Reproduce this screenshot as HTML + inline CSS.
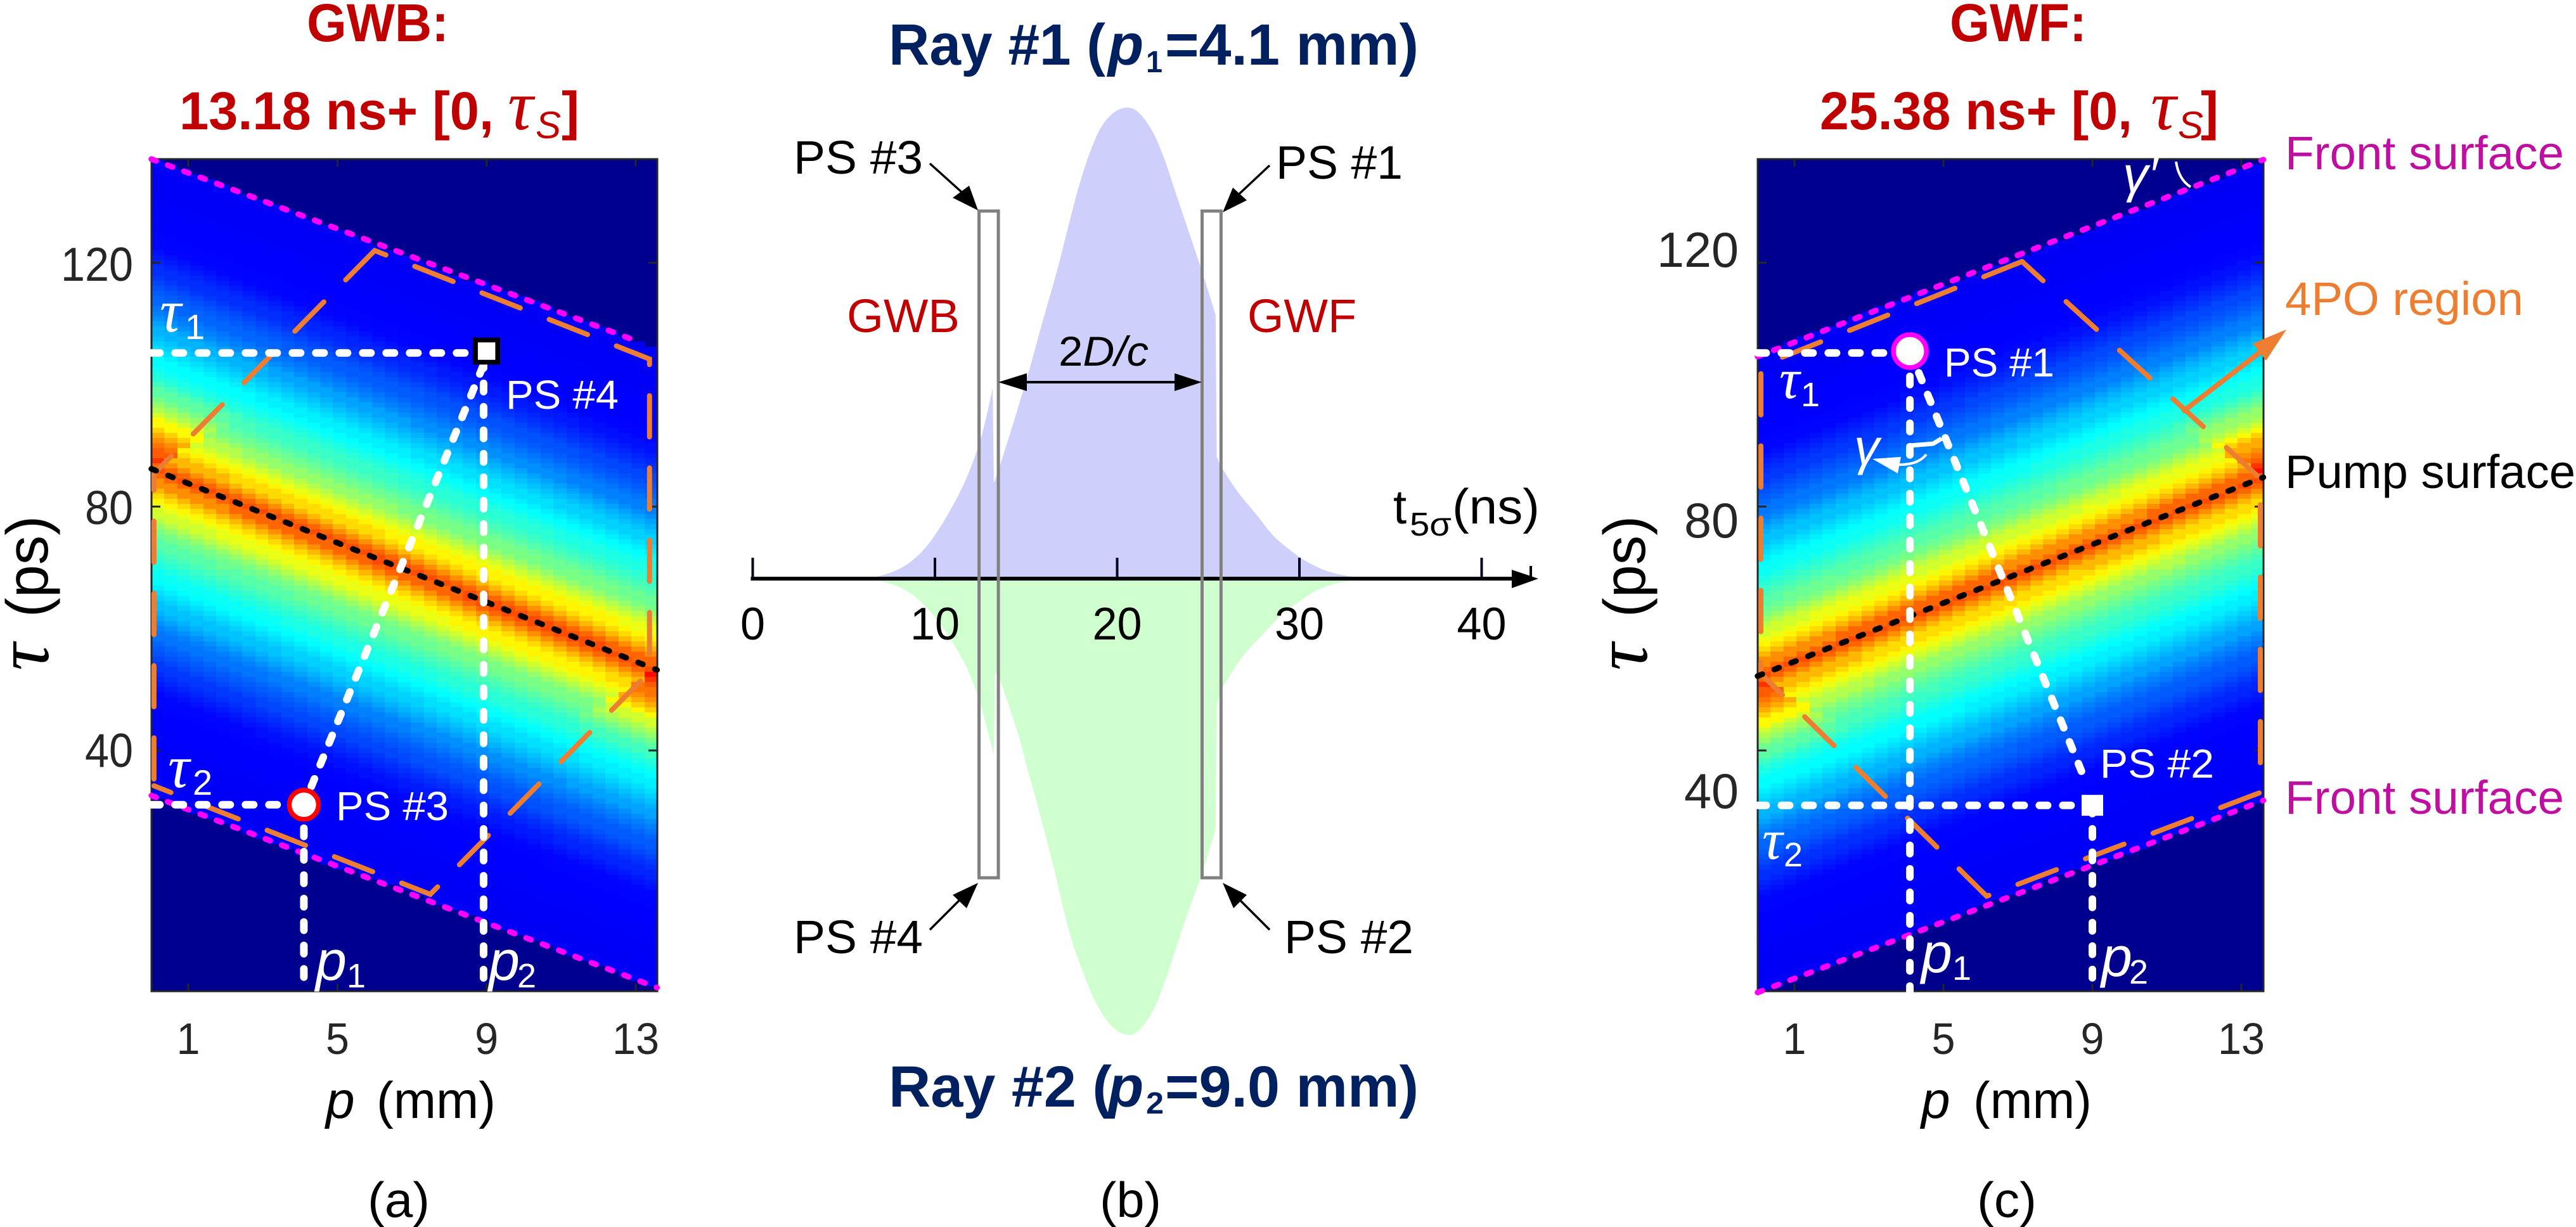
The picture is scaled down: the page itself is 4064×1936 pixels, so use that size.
<!DOCTYPE html>
<html lang="en">
<head>
<meta charset="utf-8">
<title>GWB and GWF four-photon overlap chart</title>
<style>
html,body{margin:0;padding:0;background:#fff}
svg{display:block;font-family:"Liberation Sans",sans-serif}
.serif{font-family:"Liberation Serif",serif}
.title{font-weight:bold;fill:#C00000}
.ray{font-weight:bold;fill:#002060}
.lab{fill:#000}
.wh{fill:#fff}
</style>
</head>
<body>
<svg id="fig" xmlns="http://www.w3.org/2000/svg" width="4064" height="1936" viewBox="0 0 4064 1936">
  <rect x="0" y="0" width="4064" height="1936" fill="#fff"/>
  <g id="heat-a" shape-rendering="crispEdges"></g>
  <g id="heat-c" shape-rendering="crispEdges"></g>
  <g id="marks-a"></g>
  <g id="marks-c"></g>
  <g id="marks-b"></g>

  <!-- Panel a text -->
  <g>
    <text class="title" x="484" y="65" font-size="84" textLength="224" lengthAdjust="spacingAndGlyphs">GWB:</text>
    <text class="title" x="283" y="204" font-size="84" textLength="496" lengthAdjust="spacingAndGlyphs">13.18 ns+ [0,</text>
    <text class="serif" x="801" y="204" font-size="112" font-style="italic" fill="#C00000">τ</text>
    <text x="845" y="218" font-size="60" font-style="italic" fill="#C00000">S</text>
    <text class="title" x="886" y="204" font-size="84">]</text>
    <text class="serif" transform="translate(76,1058) rotate(-90)" font-size="120" font-style="italic" fill="#000">τ</text>
    <text transform="translate(75,974) rotate(-90)" font-size="93" fill="#000">(ps)</text>
    <text x="514" y="1764" font-size="82" font-style="italic" fill="#000">p</text>
    <text x="594" y="1764" font-size="82" fill="#000" textLength="188" lengthAdjust="spacingAndGlyphs">(mm)</text>
    <text x="580" y="1920" font-size="78" fill="#000" textLength="98" lengthAdjust="spacingAndGlyphs">(a)</text>
  </g>

  <!-- Panel b text and annotations -->
  <g>
    <text class="ray" x="1402" y="102" font-size="92" textLength="342" lengthAdjust="spacingAndGlyphs">Ray #1 (</text>
    <text class="ray" x="1748" y="102" font-size="92" font-style="italic">p</text>
    <text class="ray" x="1808" y="114" font-size="48" font-weight="normal" textLength="26" lengthAdjust="spacingAndGlyphs">1</text>
    <text class="ray" x="1838" y="102" font-size="92" textLength="400" lengthAdjust="spacingAndGlyphs">=4.1 mm)</text>
    <text class="ray" x="1402" y="1746" font-size="92" textLength="352" lengthAdjust="spacingAndGlyphs">Ray #2 (</text>
    <text class="ray" x="1748" y="1746" font-size="92" font-style="italic">p</text>
    <text class="ray" x="1808" y="1757" font-size="48" textLength="28" lengthAdjust="spacingAndGlyphs">2</text>
    <text class="ray" x="1838" y="1746" font-size="92" textLength="400" lengthAdjust="spacingAndGlyphs">=9.0 mm)</text>

    <text class="lab" x="1252" y="274" font-size="74" textLength="204" lengthAdjust="spacingAndGlyphs">PS #3</text>
    <text class="lab" x="2013" y="282" font-size="74" textLength="200" lengthAdjust="spacingAndGlyphs">PS #1</text>
    <text class="lab" x="1252" y="1504" font-size="74" textLength="204" lengthAdjust="spacingAndGlyphs">PS #4</text>
    <text class="lab" x="2026" y="1504" font-size="74" textLength="204" lengthAdjust="spacingAndGlyphs">PS #2</text>
    <text x="1336" y="524" font-size="74" fill="#C00000" textLength="178" lengthAdjust="spacingAndGlyphs">GWB</text>
    <text x="1968" y="524" font-size="74" fill="#C00000" textLength="172" lengthAdjust="spacingAndGlyphs">GWF</text>
    <text class="lab" x="1670" y="577" font-size="66" textLength="142" lengthAdjust="spacingAndGlyphs"><tspan>2</tspan><tspan font-style="italic">D/c</tspan></text>
    <text class="lab" x="2198" y="826" font-size="76">t</text>
    <text class="lab" x="2224" y="845" font-size="52" textLength="66" lengthAdjust="spacingAndGlyphs">5σ</text>
    <text class="lab" x="2291" y="826" font-size="78" textLength="138" lengthAdjust="spacingAndGlyphs">(ns)</text>
    <text class="lab" x="1735" y="1920" font-size="78" textLength="97" lengthAdjust="spacingAndGlyphs">(b)</text>

    <line x1="1467" y1="258" x2="1517" y2="303" stroke="#000" stroke-width="3.5"/>
    <polygon points="1543,332 1503,312 1529,293" fill="#000"/>
    <line x1="2003" y1="261" x2="1955" y2="306" stroke="#000" stroke-width="3.5"/>
    <polygon points="1929,335 1967,316 1945,296" fill="#000"/>
    <line x1="1467" y1="1467" x2="1513" y2="1421" stroke="#000" stroke-width="3.5"/>
    <polygon points="1543,1393 1503,1412 1525,1433" fill="#000"/>
    <line x1="2003" y1="1467" x2="1957" y2="1421" stroke="#000" stroke-width="3.5"/>
    <polygon points="1929,1393 1967,1412 1946,1433" fill="#000"/>
    <line x1="1610" y1="603" x2="1860" y2="603" stroke="#000" stroke-width="4"/>
    <polygon points="1575,603 1620,589 1620,617" fill="#000"/>
    <polygon points="1896,603 1853,589 1853,617" fill="#000"/>
  </g>

  <!-- Panel c text and annotations -->
  <g>
    <text class="title" x="3076" y="65" font-size="84" textLength="216" lengthAdjust="spacingAndGlyphs">GWF:</text>
    <text class="title" x="2871" y="204" font-size="84" textLength="493" lengthAdjust="spacingAndGlyphs">25.38 ns+ [0,</text>
    <text class="serif" x="3393" y="204" font-size="112" font-style="italic" fill="#C00000">τ</text>
    <text x="3436" y="218" font-size="60" font-style="italic" fill="#C00000">S</text>
    <text class="title" x="3472" y="204" font-size="84">]</text>
    <text class="serif" transform="translate(2598,1058) rotate(-90)" font-size="120" font-style="italic" fill="#000">τ</text>
    <text transform="translate(2595,974) rotate(-90)" font-size="93" fill="#000">(ps)</text>
    <text x="3031" y="1764" font-size="82" font-style="italic" fill="#000">p</text>
    <text x="3113" y="1764" font-size="82" fill="#000" textLength="187" lengthAdjust="spacingAndGlyphs">(mm)</text>
    <text x="3119" y="1920" font-size="78" fill="#000" textLength="94" lengthAdjust="spacingAndGlyphs">(c)</text>
    <text x="3605" y="267" font-size="74" fill="#BF0FA0" textLength="440" lengthAdjust="spacingAndGlyphs">Front surface</text>
    <text x="3605" y="1284" font-size="74" fill="#BF0FA0" textLength="440" lengthAdjust="spacingAndGlyphs">Front surface</text>
    <text x="3605" y="497" font-size="74" fill="#ED7D31" textLength="376" lengthAdjust="spacingAndGlyphs">4PO region</text>
    <text x="3605" y="770" font-size="74" fill="#000" textLength="458" lengthAdjust="spacingAndGlyphs">Pump surface</text>
  </g>

  <g id="overlay">
    <!-- panel a white labels -->
    <text class="wh" x="798" y="645" font-size="64" textLength="178" lengthAdjust="spacingAndGlyphs">PS #4</text>
    <text class="wh" x="530" y="1294" font-size="64" textLength="178" lengthAdjust="spacingAndGlyphs">PS #3</text>
    <text class="wh serif" x="252" y="523" font-size="95" font-style="italic">τ</text>
    <text class="wh" x="292" y="535" font-size="56">1</text>
    <text class="wh serif" x="265" y="1242" font-size="95" font-style="italic">τ</text>
    <text class="wh" x="304" y="1254" font-size="56">2</text>
    <text class="wh" x="498" y="1546" font-size="88" font-style="italic">p</text>
    <text class="wh" x="547" y="1558" font-size="54">1</text>
    <text class="wh" x="771" y="1546" font-size="88" font-style="italic">p</text>
    <text class="wh" x="816" y="1558" font-size="54">2</text>
    <!-- panel c white labels -->
    <text class="wh" x="3067" y="594" font-size="64" textLength="174" lengthAdjust="spacingAndGlyphs">PS #1</text>
    <text class="wh" x="3313" y="1227" font-size="64" textLength="180" lengthAdjust="spacingAndGlyphs">PS #2</text>
    <text class="wh serif" x="2807" y="628" font-size="90" font-style="italic">τ</text>
    <text class="wh" x="2841" y="641" font-size="54">1</text>
    <text class="wh serif" x="2780" y="1355" font-size="90" font-style="italic">τ</text>
    <text class="wh" x="2814" y="1367" font-size="54">2</text>
    <text class="wh" x="3031" y="1534" font-size="88" font-style="italic">p</text>
    <text class="wh" x="3080" y="1546" font-size="54">1</text>
    <text class="wh" x="3315" y="1540" font-size="88" font-style="italic">p</text>
    <text class="wh" x="3359" y="1552" font-size="54">2</text>
    <text class="wh" x="2925" y="733" font-size="80" font-style="italic">γ</text>
    <text class="wh" x="3349" y="303" font-size="80" font-style="italic">γ′</text>
    <path d="M3433 255 Q3437 283 3456 295" fill="none" stroke="#fff" stroke-width="4"/>
    <path d="M3039 717 Q3025 735 2990 733" fill="none" stroke="#fff" stroke-width="4"/>
    <polygon points="2954,724 2999,721 2994,747" fill="#fff"/>
    <path d="M3014 703 L3050 700 L3063 692" fill="none" stroke="#fff" stroke-width="7"/>
    <line x1="3443" y1="650" x2="3565" y2="556" stroke="#ED7D31" stroke-width="8"/>
    <polygon points="3607,520 3554,542 3575,569" fill="#ED7D31"/>
  </g>
</svg>

<script>
// ---- Heatmap profile: jet level versus |tau - pump tau|, one entry per ps ----
const bandProfile = [.8,.775,.735,.695,.66,.635,.605,.58,.55,.52,.495,.48,.46,.445,.43,.415,.4,.385,.375,.36,.345,.33,.315,.3,.285,.265,.25,.24,.225,.215,.205,.195,.18,.17,.16,.15,.14,.13,.128,.126,.125,.124,.123,.122,.121,.12,.119,.118,.117,.116,.115];
// Extra level in the triangles outside the 4PO region, indexed the same way.
const cornerGain = [.09,.09,.09,.09,.1,.1,.1,.09,.08,.06,.05,.04,.03,.02,.01,0];
const jetLevels = [0,.125,.375,.625,.875,1];
const jetRed = [0,0,0,255,255,128];
const jetGreen = [0,0,255,255,0,0];
const jetBlue = [143,255,255,0,0,0];

// ---- Tick labels ----
const tauTicks = [40,80,120];
const pTicks = [1,5,9,13];
const timeTicks = [0,10,20,30,40];

// ---- Panel a series (p in mm, tau in ps) ----
const aPumpP = [0.01,13.57];
const aPumpTau = [86.2,53.2];
const aFrontTopP = [0.01,13.0];
const aFrontTopTau = [137,107.2];
const aFrontBotP = [0.01,13.57];
const aFrontBotTau = [32.6,1.1];
const aRegionP = [6.0,13.37,13.37,7.49,0.08,0.08,6.0];
const aRegionTau = [122,104.2,52.9,16.4,34.2,85.4,122];
const aPS = {p:[9.0,4.1], tau:[105.5,31.1]};

// ---- Panel c series ----
const cPumpP = [0.01,13.59];
const cPumpTau = [52.2,84.8];
const cFrontTopP = [0.01,13.59];
const cFrontTopTau = [104.6,136.9];
const cFrontBotP = [0.01,13.59];
const cFrontBotTau = [0.3,31.8];
const cRegionP = [7.11,13.51,13.51,6.16,0.1,0.1,7.11];
const cRegionTau = [120.2,84.6,33.1,16.1,52.6,103.1,120.2];
const cPS = {p:[4.1,9.0], tau:[105.5,31.0]};

// ---- Panel b series (t in ns, relative amplitude) ----
const ray1Times = [5.99,7,8.01,8.8,9.57,10.3,11.12,11.8,12.42,12.8,13.17,13.23,13.48,14.3,15.15,15.9,16.71,17.3,17.95,18.6,19.19,19.9,20.68,21.3,21.99,22.6,23.23,23.9,24.66,25.4,25.46,25.7,26.6,27.58,28.6,29.75,30.6,31.6,32.6,33.8];
const ray1Amps = [0,.006,.02,.04,.07,.11,.165,.22,.285,.34,.405,.203,.229,.33,.44,.545,.655,.745,.84,.915,.963,.992,1,.985,.946,.89,.817,.74,.652,.56,.259,.238,.185,.139,.09,.053,.032,.015,.006,0];
const ray2Times = [5.99,7,8.01,8.8,9.57,10.3,11.12,11.8,12.42,12.8,13.23,13.3,13.6,14.53,15.1,15.77,16.5,17.33,18.1,18.88,19.8,20.68,21.3,21.99,22.6,23.23,23.9,24.66,25.4,25.46,25.7,26.8,28.04,29,30,31,32.3,33.8];
const ray2Amps = [0,.005,.018,.036,.065,.1,.15,.2,.265,.32,.386,.204,.225,.336,.42,.518,.63,.768,.86,.933,.985,1,.985,.945,.885,.81,.73,.645,.55,.278,.245,.175,.12,.08,.05,.025,.008,0];
const slitLeftNs = [12.42,13.48];
const slitRightNs = [24.66,25.7];

// ---- Axis functions ----
const xA = p => 297 + (p - 1) * 58.83;
const xC = p => 2831 + (p - 1) * 58.75;
const yT = t => 414.5 + (120 - t) * 9.62;
const xB = t => 1187.5 + t * 28.75;
const yRay1 = a => 913 - a * 743;
const yRay2 = a => 913 + a * 720;

const NS = 'http://www.w3.org/2000/svg';
function make(tag, parent, attrs) {
  const el = document.createElementNS(NS, tag);
  for (const k in attrs) el.setAttribute(k, attrs[k]);
  parent.appendChild(el);
  return el;
}
function lerpAt(ps, ts, p) {
  const f = (p - ps[0]) / (ps[1] - ps[0]);
  return ts[0] + f * (ts[1] - ts[0]);
}
function jet(v) {
  v = Math.max(0, Math.min(1, v));
  let i = 0;
  while (i < jetLevels.length - 2 && v > jetLevels[i + 1]) i++;
  const f = (v - jetLevels[i]) / (jetLevels[i + 1] - jetLevels[i]);
  const c = a => Math.round(a[i] + f * (a[i + 1] - a[i]));
  return 'rgb(' + c(jetRed) + ',' + c(jetGreen) + ',' + c(jetBlue) + ')';
}

function drawHeat(parent, xFn, pump, top, bot, x0, x1, cornerSide) {
  const yTop = 251, yBot = 1564, cols = 39, rows = 164;
  for (let c = 0; c < cols; c++) {
    const xa = Math.round(x0 + (x1 - x0) * c / cols);
    const xb = Math.round(x0 + (x1 - x0) * (c + 1) / cols);
    const xMid = (xa + xb) / 2;
    const pMid = 1 + (xMid - xFn(1)) / (xFn(2) - xFn(1));
    const pumpTau = lerpAt(pump[0], pump[1], pMid);
    const topTau = lerpAt(top[0], top[1], pMid);
    const botTau = lerpAt(bot[0], bot[1], pMid);
    for (let r = 0; r < rows; r++) {
      const ya = Math.round(yTop + (yBot - yTop) * r / rows);
      const yb = Math.round(yTop + (yBot - yTop) * (r + 1) / rows);
      const tau = 120 - (((ya + yb) / 2) - 414.5) / 9.62;
      let v = 0;
      if (tau <= topTau && tau >= botTau) {
        const signed = tau - pumpTau;
        const off = Math.round(Math.abs(signed));
        v = bandProfile[Math.min(bandProfile.length - 1, off)];
        const u = Math.abs(signed) * 9.62;
        const outside = (signed * cornerSide > 0 && xMid - x0 < u) || (signed * cornerSide < 0 && x1 - xMid < u);
        if (outside && off < cornerGain.length) v += cornerGain[off];
      }
      const el = make('rect', parent, {x: xa, y: ya, width: xb - xa, height: yb - ya, fill: jet(v)});
      
      
    }
  }
}

function series(parent, name, xFn, yFn, xs, ys, stroke, width, dash, offset) {
  const d = xs.map((x, i) => (i ? 'L' : 'M') + xFn(x).toFixed(1) + ' ' + yFn(ys[i]).toFixed(1)).join(' ');
  const el = make('path', parent, {d: d, fill: 'none', stroke: stroke, 'stroke-width': width, 'stroke-linecap': 'round', 'stroke-linejoin': 'miter', 'stroke-dasharray': dash, 'stroke-dashoffset': offset || 0});
  
  
  return el;
}

function frame(parent, panel, xFn, x0, x1, yTop, yBot, tauLabelY, tauLabelX, tauFont, tauAdvance) {
  const box = make('rect', parent, {x: x0, y: yTop, width: x1 - x0, height: yBot - yTop, fill: 'none', stroke: '#262626', 'stroke-width': 3});
  
  
  pTicks.forEach(t => {
    const a = make('line', parent, {x1: xFn(t), x2: xFn(t), y1: yTop, y2: yTop + 12, stroke: '#262626', 'stroke-width': 3});
    
    
    const b = make('line', parent, {x1: xFn(t), x2: xFn(t), y1: yBot, y2: yBot - 12, stroke: '#262626', 'stroke-width': 3});
    
    
    const s = String(t);
    const lab = make('text', parent, {x: xFn(t), y: 1663, 'text-anchor': 'middle', 'font-size': 70, fill: '#262626', textLength: s.length * 37, lengthAdjust: 'spacingAndGlyphs'});
    lab.textContent = s;
    
    
  });
  tauTicks.forEach(t => {
    const a = make('line', parent, {x1: x0, x2: x0 + 14, y1: yT(t), y2: yT(t), stroke: '#262626', 'stroke-width': 3});
    
    
    const b = make('line', parent, {x1: x1, x2: x1 - 14, y1: yT(t), y2: yT(t), stroke: '#262626', 'stroke-width': 3});
    
    
    const s = String(t);
    const lab = make('text', parent, {x: tauLabelX, y: tauLabelY(t), 'text-anchor': 'end', 'font-size': tauFont, fill: '#262626', textLength: s.length * tauAdvance, lengthAdjust: 'spacingAndGlyphs'});
    lab.textContent = s;
    
    
  });
}

function psSquare(parent, name, cx, cy, w, h, stroke, sw) {
  const el = make('rect', parent, {x: cx - w / 2, y: cy - h / 2, width: w, height: h, fill: '#fff', stroke: stroke, 'stroke-width': sw});
  
  
}
function psCircle(parent, name, cx, cy, r, stroke) {
  const el = make('circle', parent, {cx: cx, cy: cy, r: r, fill: '#fff', stroke: stroke, 'stroke-width': 7.5});
  
  
}

const DOT = '13 24', MAG = '8 19.5', BLK = '8 20.5', ORG = '65 49', ORANGE = '#ED7D31';

// ---- Panel a ----
const heatA = document.getElementById('heat-a');
drawHeat(heatA, xA, [aPumpP, aPumpTau], [aFrontTopP, aFrontTopTau], [aFrontBotP, aFrontBotTau], 239, 1037, 1);
const mA = document.getElementById('marks-a');
frame(mA, 'panel-a', xA, 239, 1037, 251, 1564, t => 443 + (t === 120 ? 0 : t === 80 ? 384 : 767), 210, 75, 38);
// The region outline is stroked in two runs from its top vertex, so a dash meets that vertex on both sides.
series(mA, 'panel-a-4po-region-right', xA, yT, aRegionP.slice(0, 5), aRegionTau.slice(0, 5), ORANGE, 8, ORG, 46);
series(mA, 'panel-a-4po-region-left', xA, yT, aRegionP.slice(4).reverse(), aRegionTau.slice(4).reverse(), ORANGE, 8, ORG, 0);
series(mA, 'panel-a-front-surface-top', xA, yT, aFrontTopP, aFrontTopTau, '#FF00FF', 9, MAG);
series(mA, 'panel-a-front-surface-bottom', xA, yT, aFrontBotP, aFrontBotTau, '#FF00FF', 9, MAG);
series(mA, 'panel-a-pump-surface', xA, yT, aPumpP, aPumpTau, '#000', 9, BLK);
series(mA, 'panel-a-tau1-guide', xA, yT, [0.02, aPS.p[0]], [105.2, 105.2], '#fff', 12, DOT);
series(mA, 'panel-a-tau2-guide', xA, yT, [0.02, aPS.p[1]], [aPS.tau[1], aPS.tau[1]], '#fff', 12, DOT);
series(mA, 'panel-a-p2-guide', xA, yT, [8.92, 8.92], [105.2, 0.5], '#fff', 12, DOT, 26);
series(mA, 'panel-a-p1-guide', xA, yT, [aPS.p[1], aPS.p[1]], [aPS.tau[1], 0.5], '#fff', 12, DOT);
series(mA, 'panel-a-ps-connector', xA, yT, [8.9, aPS.p[1]], [103, aPS.tau[1]], '#fff', 12, DOT);
psSquare(mA, 'ps4-marker', xA(aPS.p[0]), yT(aPS.tau[0]), 35, 35, '#000', 7.5);
psCircle(mA, 'ps3-marker', xA(aPS.p[1]), yT(aPS.tau[1]), 23, '#FF0000');

// ---- Panel c ----
const heatC = document.getElementById('heat-c');
drawHeat(heatC, xC, [cPumpP, cPumpTau], [cFrontTopP, cFrontTopTau], [cFrontBotP, cFrontBotTau], 2773, 3571, -1);
const mC = document.getElementById('marks-c');
frame(mC, 'panel-c', xC, 2773, 3571, 251, 1564, t => 848 + (80 - t) * 10.675, 2743, 78, 43);
series(mC, 'panel-c-4po-region-right', xC, yT, cRegionP.slice(0, 5), cRegionTau.slice(0, 5), ORANGE, 8, ORG, 20);
series(mC, 'panel-c-4po-region-left', xC, yT, cRegionP.slice(4).reverse(), cRegionTau.slice(4).reverse(), ORANGE, 8, ORG, 0);
series(mC, 'panel-c-front-surface-top', xC, yT, cFrontTopP, cFrontTopTau, '#FF00FF', 9, MAG);
series(mC, 'panel-c-front-surface-bottom', xC, yT, cFrontBotP, cFrontBotTau, '#FF00FF', 9, MAG);
series(mC, 'panel-c-pump-surface', xC, yT, cPumpP, cPumpTau, '#000', 9, BLK);
series(mC, 'panel-c-tau1-guide', xC, yT, [0.02, cPS.p[0]], [105.2, 105.2], '#fff', 12, DOT);
series(mC, 'panel-c-tau2-guide', xC, yT, [0.02, cPS.p[1]], [cPS.tau[1], cPS.tau[1]], '#fff', 12, DOT);
series(mC, 'panel-c-p1-guide', xC, yT, [cPS.p[0], cPS.p[0]], [105.2, 0.5], '#fff', 12, DOT);
series(mC, 'panel-c-p2-guide', xC, yT, [cPS.p[1], cPS.p[1]], [cPS.tau[1], 0.5], '#fff', 12, DOT);
series(mC, 'panel-c-ps-connector', xC, yT, [cPS.p[0], 8.8], [cPS.tau[0], 35.2], '#fff', 12, DOT);
psCircle(mC, 'ps1-marker', xC(cPS.p[0]), yT(cPS.tau[0]), 26, '#FF00FF');
psSquare(mC, 'ps2-marker', xC(cPS.p[1]), yT(cPS.tau[1]), 34, 33, '#fff', 0);

// ---- Panel b ----
const mB = document.getElementById('marks-b');
function area(name, ts, as, yFn, fill) {
  const n = ts.length;
  const pt = i => [xB(ts[i]), yFn(as[i])];
  const joined = i => ts[i + 1] - ts[i] >= 0.31;
  let d = 'M' + xB(ts[0]).toFixed(1) + ' 913 L' + pt(0)[0].toFixed(1) + ' ' + pt(0)[1].toFixed(1);
  for (let i = 0; i < n - 1; i++) {
    const p1 = pt(i), p2 = pt(i + 1);
    if (!joined(i)) {
      d += ' L' + p2[0].toFixed(1) + ' ' + p2[1].toFixed(1);
      continue;
    }
    const p0 = i > 0 && joined(i - 1) ? pt(i - 1) : p1;
    const p3 = i < n - 2 && joined(i + 1) ? pt(i + 2) : p2;
    const c1x = p1[0] + (p2[0] - p0[0]) / 6, c1y = p1[1] + (p2[1] - p0[1]) / 6;
    const c2x = p2[0] - (p3[0] - p1[0]) / 6, c2y = p2[1] - (p3[1] - p1[1]) / 6;
    d += ' C' + c1x.toFixed(1) + ' ' + c1y.toFixed(1) + ' ' + c2x.toFixed(1) + ' ' + c2y.toFixed(1) + ' ' + p2[0].toFixed(1) + ' ' + p2[1].toFixed(1);
  }
  d += ' L' + xB(ts[n - 1]).toFixed(1) + ' 913 Z';
  const el = make('path', mB, {d: d, fill: fill});
  
  
}
area('ray1-pulse', ray1Times, ray1Amps, yRay1, '#CFCFFB');
area('ray2-pulse', ray2Times, ray2Amps, yRay2, '#CFFECF');

const axisLine = make('line', mB, {x1: xB(0) - 3, x2: 2392, y1: 913, y2: 913, stroke: '#000', 'stroke-width': 6});


const axisHead = make('polygon', mB, {points: '2427,913 2385,899 2385,928', fill: '#000'});


const axisEnd = make('line', mB, {x1: 2415, x2: 2415, y1: 893, y2: 913, stroke: '#000', 'stroke-width': 4});



timeTicks.forEach(t => {
  const tick = make('line', mB, {x1: xB(t), x2: xB(t), y1: 880, y2: 913, stroke: '#000020', 'stroke-width': 4});
  
  
  const s = String(t);
  const lab = make('text', mB, {x: xB(t), y: 1009, 'text-anchor': 'middle', 'font-size': 72, fill: '#000', textLength: s.length * 39, lengthAdjust: 'spacingAndGlyphs'});
  lab.textContent = s;
  
  
});

[['slit-gwb', slitLeftNs], ['slit-gwf', slitRightNs]].forEach(item => {
  const r = make('rect', mB, {x: xB(item[1][0]), y: 333, width: xB(item[1][1]) - xB(item[1][0]), height: 1052, fill: 'none', stroke: '#808080', 'stroke-width': 5});
  
  
});

// Keep white labels above the heatmap marks.
const svg = document.getElementById('fig');
svg.appendChild(document.getElementById('overlay'));
</script>
</body>
</html>
